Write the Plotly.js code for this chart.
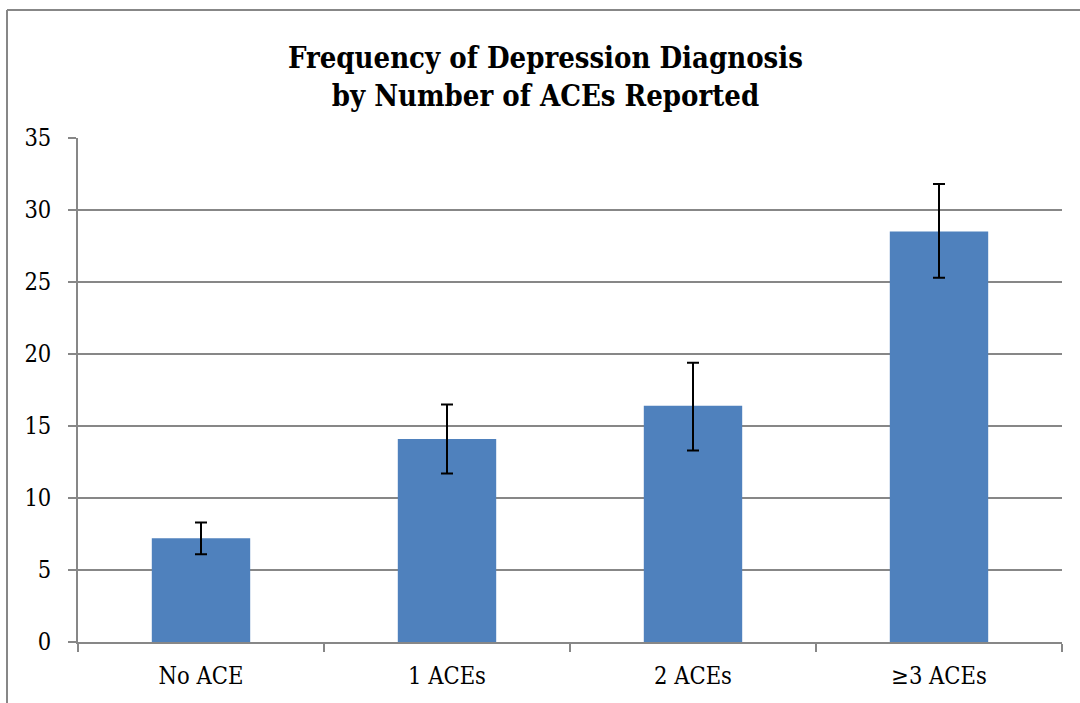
<!DOCTYPE html>
<html>
<head>
<meta charset="utf-8">
<script src="https://cdn.plot.ly/plotly-3.0.1.min.js"></script>
<style>
html,body{margin:0;padding:0;background:#fff;}
#chart{width:1080px;height:703px;}
</style>
</head>
<body>
<div id="chart"></div>
<script>
const categories = ["No ACE", "1 ACEs", "2 ACEs", "\u22653 ACEs"];
const frequency = [7.2, 14.1, 16.4, 28.5];
const errorPlus = [1.1, 2.4, 3.0, 3.3];
const errorMinus = [1.1, 2.4, 3.1, 3.2];
const yTicks = [0, 5, 10, 15, 20, 25, 30, 35];

const gridColor = "#878787";
const serif = "DejaVu Serif Condensed, Liberation Serif, serif";

const trace = {
  type: "bar",
  x: categories,
  y: frequency,
  marker: {color: "#4F81BD"},
  error_y: {
    type: "data",
    symmetric: false,
    array: errorPlus,
    arrayminus: errorMinus,
    color: "#000000",
    thickness: 2,
    width: 6
  },
  hoverinfo: "none"
};

const layout = {
  width: 1080,
  height: 703,
  margin: {l: 78, r: 18, t: 138, b: 61},
  paper_bgcolor: "#ffffff",
  plot_bgcolor: "#ffffff",
  bargap: 0.6,
  showlegend: false,
  title: {
    text: "<b>Frequency of Depression Diagnosis<br>by Number of ACEs Reported</b>",
    font: {family: serif, size: 29, color: "#000000"},
    x: 0.505,
    xanchor: "center",
    y: 0.903,
    yanchor: "middle"
  },
  xaxis: {
    type: "category",
    showgrid: false,
    showline: true,
    linecolor: gridColor,
    linewidth: 2,
    ticks: "outside",
    tickson: "boundaries",
    ticklen: 8,
    tickwidth: 2,
    tickcolor: gridColor,
    tickfont: {family: serif, size: 23.5, color: "#000000"},
    ticklabelstandoff: 12,
    zeroline: false
  },
  yaxis: {
    range: [0, 35],
    tickvals: yTicks,
    showgrid: true,
    gridcolor: gridColor,
    gridwidth: 2,
    showline: true,
    linecolor: gridColor,
    linewidth: 2,
    ticks: "outside",
    ticklen: 8,
    tickwidth: 2,
    tickcolor: gridColor,
    tickfont: {family: serif, size: 23.5, color: "#000000"},
    ticklabelstandoff: 12,
    zeroline: false
  },
  shapes: [
    {type: "line", xref: "paper", yref: "paper",
     x0: (7 - 78) / 984, x1: (7 - 78) / 984, y0: (642 - 10) / 504, y1: (642 - 705) / 504,
     line: {color: gridColor, width: 2}},
    {type: "line", xref: "paper", yref: "paper",
     x0: (7 - 78) / 984, x1: (1082 - 78) / 984, y0: (642 - 10) / 504, y1: (642 - 10) / 504,
     line: {color: gridColor, width: 2}}
  ]
};

Plotly.newPlot("chart", [trace], layout, {displayModeBar: false, staticPlot: true});
</script>
</body>
</html>
